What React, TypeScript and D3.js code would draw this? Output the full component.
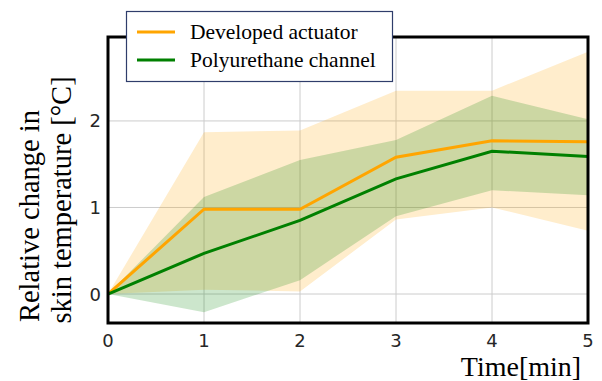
import React from "react";
import * as d3 from "d3";

// time in minutes
const times = [0, 1, 2, 3, 4, 5];

// developed actuator: mean and band
const actMean = [0, 0.98, 0.98, 1.58, 1.77, 1.76];
const actUpper = [0, 1.87, 1.89, 2.35, 2.35, 2.8];
const actLower = [0, 0.05, 0.03, 0.86, 1.0, 0.73];

// polyurethane channel: mean and band
const puMean = [0, 0.47, 0.85, 1.33, 1.65, 1.59];
const puUpper = [0, 1.12, 1.55, 1.78, 2.29, 2.02];
const puLower = [0, -0.21, 0.16, 0.9, 1.2, 1.14];

const xTicks = [0, 1, 2, 3, 4, 5];
const yTicks = [0, 1, 2];

const series = [
  { name: "Developed actuator", color: "#FFA500", mean: actMean, upper: actUpper, lower: actLower },
  { name: "Polyurethane channel", color: "#008000", mean: puMean, upper: puUpper, lower: puLower },
];

export default function App() {
  const W = 602,
    H = 381;
  const margin = { left: 108, right: 14, top: 37, bottom: 58 };
  const x = d3.scaleLinear().domain([0, 5]).range([margin.left, W - margin.right]);
  const y = d3.scaleLinear().domain([-0.335, 2.97]).range([H - margin.bottom, margin.top]);

  const line = d3
    .line<number>()
    .x((d, i) => x(times[i]))
    .y((d) => y(d));

  const area = (s: typeof series[0]) =>
    d3
      .area<number>()
      .x((d, i) => x(times[i]))
      .y0((d, i) => y(s.lower[i]))
      .y1((d, i) => y(s.upper[i]))(times);

  const serif = "'Liberation Serif', 'Times New Roman', serif";
  const sans = "'DejaVu Sans', sans-serif";

  return (
    <svg width={W} height={H} style={{ position: "absolute", left: 0, top: 0 }}>
      <rect width={W} height={H} fill="#fff" />
      {/* grid */}
      {xTicks.map((t) => (
        <line key={"gx" + t} x1={x(t)} x2={x(t)} y1={y.range()[1]} y2={y.range()[0]} stroke="#cccccc" strokeWidth={1} />
      ))}
      {yTicks.map((t) => (
        <line key={"gy" + t} x1={x(0)} x2={x(5)} y1={y(t)} y2={y(t)} stroke="#cccccc" strokeWidth={1} />
      ))}
      {/* bands */}
      {series.map((s) => (
        <path key={"a" + s.name} d={area(s) || ""} fill={s.color} fillOpacity={0.2} stroke="none" />
      ))}
      {/* mean lines */}
      {series.map((s) => (
        <path key={"l" + s.name} d={line(s.mean) || ""} fill="none" stroke={s.color} strokeWidth={3} />
      ))}
      {/* frame */}
      <rect
        x={x(0)}
        y={y.range()[1]}
        width={x(5) - x(0)}
        height={y.range()[0] - y.range()[1]}
        fill="none"
        stroke="#000"
        strokeWidth={3}
      />
      {/* tick labels */}
      {xTicks.map((t) => (
        <text key={"tx" + t} x={x(t)} y={347} textAnchor="middle" fontFamily={sans} fontSize={18} fill="#262626">
          {t}
        </text>
      ))}
      {yTicks.map((t) => (
        <text key={"ty" + t} x={101} y={y(t) + 6.5} textAnchor="end" fontFamily={sans} fontSize={18} fill="#262626">
          {t}
        </text>
      ))}
      {/* axis titles */}
      <g transform="translate(39,216) rotate(-90)">
        <text textAnchor="middle" fontFamily={serif} fontSize={28.5} fill="#000">
          Relative change in
        </text>
      </g>
      <g transform="translate(71,200) rotate(-90)">
        <text textAnchor="middle" fontFamily={serif} fontSize={28.5} fill="#000">
          skin temperature [°C]
        </text>
      </g>
      <text x={521} y={376} textAnchor="middle" fontFamily={serif} fontSize={28} fill="#000">
        Time[min]
      </text>
      {/* legend */}
      <rect x={126.5} y={11.5} width={266} height={70} fill="#fff" stroke="#2f3d6b" strokeWidth={1.2} />
      {series.map((s, i) => (
        <g key={"lg" + s.name} transform={`translate(0,${32 + i * 28})`}>
          <line x1={137} x2={175} y1={0} y2={0} stroke={s.color} strokeWidth={3} />
          <text x={190} y={6.5} fontFamily={serif} fontSize={21.5} fill="#000">
            {s.name}
          </text>
        </g>
      ))}
    </svg>
  );
}
